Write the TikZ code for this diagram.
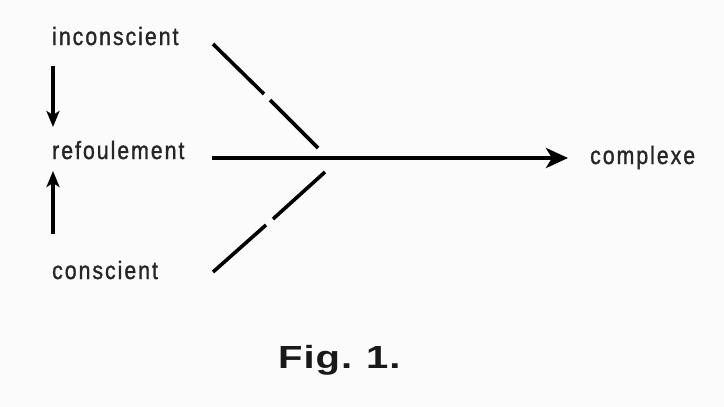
\documentclass[tikz,border=0pt]{standalone}
\usepackage{fontspec}
\setmainfont{Liberation Sans}
\newfontfamily\lbl[FakeStretch=0.85,LetterSpace=8,FakeBold=1.2]{Liberation Sans}
\newfontfamily\figfont[FakeStretch=1.25,LetterSpace=3]{Liberation Sans Bold}
\usetikzlibrary{arrows.meta}
\begin{document}
\begin{tikzpicture}[x=1pt,y=-1pt,
  lab/.style={font=\lbl\fontsize{25}{28}\selectfont, text=black!85, inner sep=0pt, anchor=base west},
  ln/.style={line width=3.6pt, line cap=butt},
  main/.style={line width=4pt, -{Stealth[length=22pt,width=20pt,inset=6pt]}},
  vert/.style={line width=3.4pt, -{Stealth[length=16pt,width=13pt,inset=4pt]}}]
\useasboundingbox (0,0) rectangle (724,407);
\fill[white!97!gray] (0,0) rectangle (724,407);
\node[lab] (inc) at (52,45) {inconscient};
\node[lab] (ref) at (52,159) {refoulement};
\node[lab] (con) at (52,279) {conscient};
\node[lab] (cpx) at (590,164) {complexe};
\node[font=\figfont\fontsize{32}{34}\selectfont, text=black!90, inner sep=0pt, anchor=base west] (fig) at (278,368) {Fig.\hspace{14pt}1.};
% vertical arrows
\coordinate (a1) at (53,66);
\coordinate (a2) at (53,127);
\coordinate (b1) at (53,234);
\coordinate (b2) at (53,171);
\draw[vert] (a1) -- (a2);
\draw[vert] (b1) -- (b2);
% upper dashed line
\coordinate (u0) at (213,44);
\coordinate (u1) at (264,94);
\coordinate (u2) at (270,100);
\coordinate (u3) at (318,148);
\draw[ln] (u0) -- (u1);
\draw[ln] (u2) -- (u3);
% lower dashed line
\coordinate (l0) at (213,272);
\coordinate (l1) at (266,225);
\coordinate (l2) at (273,219);
\coordinate (l3) at (325,172);
\draw[ln] (l0) -- (l1);
\draw[ln] (l2) -- (l3);
% main arrow
\coordinate (m0) at (212,158);
\coordinate (m1) at (568,158);
\draw[main] (m0) -- (m1);
\end{tikzpicture}
\end{document}
